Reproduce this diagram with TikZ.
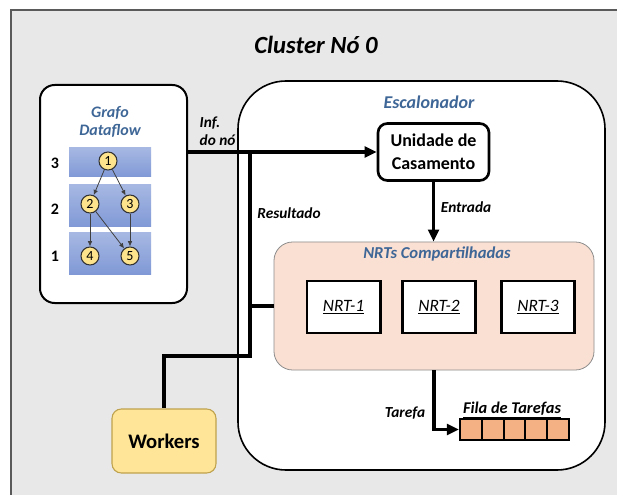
\documentclass[tikz,border=0pt]{standalone}
\usepackage{fontspec}
\setmainfont{Carlito}
\usetikzlibrary{arrows.meta}
\definecolor{frameGray}{HTML}{E8E8E8}
\definecolor{frameLine}{HTML}{5A5A5A}
\definecolor{titleBlue}{HTML}{3E6696}
\definecolor{bandBlue}{HTML}{8099D6}
\definecolor{nodeYellow}{HTML}{FCE38C}
\definecolor{workerYellow}{HTML}{FFE597}
\definecolor{workerLine}{HTML}{BFA24E}
\definecolor{nrtPeach}{HTML}{FAE0D2}
\definecolor{cellOrange}{HTML}{F4B183}
\begin{document}
\begin{tikzpicture}[
      x=0.75pt, y=-0.75pt,
      panel/.style={draw, fill=white, line width=1.5pt, rounded corners=11pt},
      band/.style={minimum width=61.5pt, inner sep=0pt,
                   top color=bandBlue!70, bottom color=bandBlue},
      gnode/.style={circle, draw=black!80, fill=nodeYellow, line width=0.8pt,
                    minimum size=13.5pt, inner sep=0pt, font=\fontsize{10.5}{10.5}\selectfont},
      gedge/.style={draw=black!75, line width=0.6pt, -{Latex[length=4pt,width=3.5pt]}},
      nrt/.style={draw, fill=white, line width=2pt, minimum width=55pt,
                  minimum height=39pt, font=\fontsize{13}{13}\selectfont\itshape},
      qcell/.style={draw, fill=cellOrange, line width=1.6pt, minimum width=16.35pt,
                    minimum height=15.75pt, inner sep=0pt},
      wire/.style={line width=2.6pt},
      arr/.style={wire, -{Triangle[length=9pt,width=8pt]}},
      lbl/.style={font=\fontsize{11.5}{13.5}\selectfont\bfseries\itshape},
      blue title/.style={text=titleBlue, font=\fontsize{#1}{#1}\selectfont\bfseries\itshape},
    ]
      \useasboundingbox (0,0) rectangle (617,495);
      \fill[frameGray] (10,9) rectangle (617,495);
      \draw[frameLine, line width=1.6pt] (11,495) -- (11,10) -- (617,10);
      \node[font=\fontsize{18.5}{18.5}\selectfont\bfseries\itshape] (title) at (316,45) {Cluster Nó 0};

      \node[panel, minimum width=110.25pt, minimum height=163.5pt] (grafo) at (113.5,194) {};
      \node[blue title=12, align=center] (grafoname) at (110,122) {Grafo\\[1pt]Dataflow};
      \node[band, minimum height=21.75pt] (band3) at (110,162.5) {};
      \node[band, minimum height=31.5pt] (band2) at (110,206) {};
      \node[band, minimum height=30.75pt] (band1) at (110,253.5) {};
      \foreach \lv/\yy in {3/163,2/209,1/256} {
        \node[font=\fontsize{12}{12}\selectfont\bfseries] (layer\lv) at (55,\yy) {\lv};
      }
      \node[gnode] (g1) at (108,161) {1};
      \node[gnode] (g2) at (90,204) {2};
      \node[gnode] (g3) at (130,204) {3};
      \node[gnode] (g4) at (90,256) {4};
      \node[gnode] (g5) at (130,256) {5};
      \draw[gedge] (g1) -- (g2);
      \draw[gedge] (g1) -- (g3);
      \draw[gedge] (g2) -- (g4);
      \draw[gedge] (g2) -- (g5);
      \draw[gedge] (g3) -- (g5);

      \node[draw, fill=white, line width=1.2pt, rounded corners=36pt,
            minimum width=275.25pt, minimum height=291.75pt] (escal) at (421.5,275.5) {};
      \node[blue title=13.5] (escalname) at (429,102) {Escalonador};
      \node[draw, fill=white, line width=2pt, rounded corners=7pt, align=center,
            minimum width=83.25pt, minimum height=42.75pt,
            font=\fontsize{13.5}{17}\selectfont\bfseries] (unidade) at (433.5,152) {Unidade de\\Casamento};
      \node[draw=black!45, fill=nrtPeach, line width=0.6pt, rounded corners=14pt,
            minimum width=240pt, minimum height=96pt] (nrts) at (434,306) {};
      \node[blue title=12.5] (nrtsname) at (437,254) {NRTs Compartilhadas};
      \foreach \k/\xx in {1/343.5,2/439,3/538} {
        \node[nrt] (nrt\k) at (\xx,307) {\underline{NRT-\k}};
      }
      \foreach \k in {1,...,5} {
        \pgfmathsetmacro{\xx}{460+10.9+21.8*(\k-1)}
        \node[qcell] (q\k) at (\xx,429.5) {};
      }
      \node[lbl, font=\fontsize{12.3}{12.3}\selectfont\bfseries\itshape] (filaname) at (512,410) {\underline{Fila de Tarefas}};

      \node[draw=workerLine, fill=workerYellow, line width=0.8pt, rounded corners=7pt,
            minimum width=78pt, minimum height=48pt,
            font=\fontsize{15.5}{15.5}\selectfont\bfseries] (workers) at (164,441) {Workers};

      \coordinate (infout) at (187,152);
      \coordinate (junc) at (250,152);
      \coordinate (bend) at (250,356);
      \draw[arr] (infout) -- (unidade.west);
      \draw[wire] (junc) -- (bend) -| (workers.north);
      \draw[wire] (nrts.west) -- (nrts.west -| junc);
      \draw[arr] (unidade.south) -- (unidade.south |- nrts.north);
      \draw[arr] (nrts.south) |- (q1.west);

      \node[lbl, align=left, anchor=west] (infname) at (195,131) {Inf.\\do nó};
      \node[lbl] (resname) at (289,213) {Resultado};
      \node[lbl] (entname) at (466,207) {Entrada};
      \node[lbl] (tarname) at (405,413) {Tarefa};
    \end{tikzpicture}
\end{document}
